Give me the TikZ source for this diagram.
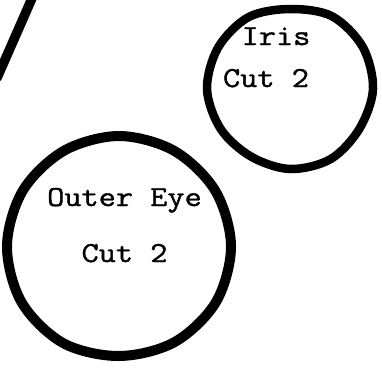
\documentclass[tikz,border=0pt]{standalone}
\usepackage{fontspec}
\newfontfamily\typew[FakeBold=1.2]{Latin Modern Mono}
\tikzset{
  outline/.style={line join=round, line cap=round},
  lbl/.style={inner sep=0pt, anchor=base, font=\fontsize{29}{29}\selectfont\typew}
}
\newcommand{\wtxt}[1]{\scalebox{1.15}[1]{#1}}
\begin{document}
\begin{tikzpicture}[x=1pt,y=-1pt]
\useasboundingbox (0,0) rectangle (382,367);
\clip (0,0) rectangle (382,367);
\fill[white] (0,0) rectangle (382,367);
% diagonal stroke
\coordinate (ltop) at (33,-4);
\coordinate (lbot) at (-3,78);
\draw[outline, line width=9.5pt] (ltop) -- (lbot);
% iris outline
\draw[outline, line width=8.5pt, shift={(290,89)}] plot[smooth cycle, tension=0.55] coordinates {
  (0:83) (30:80) (60:81) (90:80) (120:78) (150:80) (180:83) (210:83) (240:83) (270:80) (300:84) (330:84)};
% outer eye outline
\draw[outline, line width=10pt, shift={(119,246)}] plot[smooth cycle, tension=0.55] coordinates {
  (0:112) (30:112) (60:111) (90:110) (120:112) (150:112.5) (180:112) (210:111) (240:110) (270:110) (300:110) (330:111)};
% labels
\node[lbl] (iris) at (276,45) {\wtxt{Iris}};
\node[lbl] (iriscut) at (266,87) {\wtxt{Cut 2}};
\node[lbl] (outer) at (124.5,206) {\wtxt{Outer Eye}};
\node[lbl] (outercut) at (124.5,262) {\wtxt{Cut 2}};
\end{tikzpicture}
\end{document}
